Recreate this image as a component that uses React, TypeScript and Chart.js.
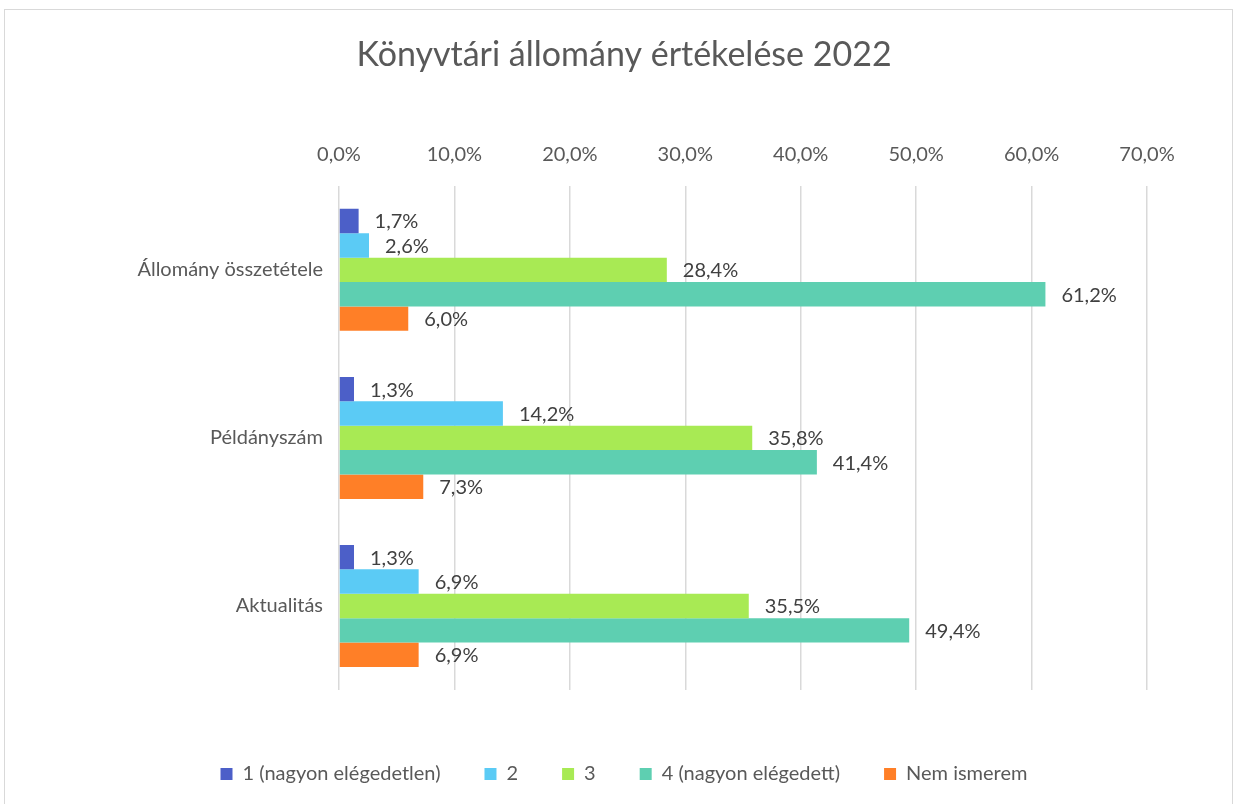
import React, { useEffect, useRef } from "react";
import { Chart, registerables } from "chart.js";

Chart.register(...registerables);

const categories = ["Állomány összetétele", "Példányszám", "Aktualitás"];
const seriesNames = ["1 (nagyon elégedetlen)", "2", "3", "4 (nagyon elégedett)", "Nem ismerem"];
const series1 = [1.7, 1.3, 1.3];
const series2 = [2.6, 14.2, 6.9];
const series3 = [28.4, 35.8, 35.5];
const series4 = [61.2, 41.4, 49.4];
const seriesNem = [6.0, 7.3, 6.9];
const seriesColors = ["#4C5FC8", "#5BCBF5", "#A8EA54", "#5ECFB1", "#FF7F27"];
const chartTitle = "Könyvtári állomány értékelése 2022";
const axisMax = 70;
const axisStep = 10;

const FONT = "Lato, 'Noto Sans', sans-serif";
const fmt = (v: number) => v.toFixed(1).replace(".", ",") + "%";

const labelPlugin = {
  id: "barValueLabels",
  afterDatasetsDraw(chart: any) {
    const ctx = chart.ctx;
    ctx.save();
    ctx.font = `20px ${FONT}`;
    ctx.fillStyle = "#404040";
    ctx.textAlign = "left";
    ctx.textBaseline = "middle";
    chart.data.datasets.forEach((ds: any, di: number) => {
      const meta = chart.getDatasetMeta(di);
      meta.data.forEach((el: any, i: number) => {
        ctx.fillText(fmt(ds.data[i]), el.x + 16, el.y + 1);
      });
    });
    ctx.restore();
  },
};

export default function App() {
  const ref = useRef<HTMLCanvasElement>(null);
  useEffect(() => {
    const all = [series1, series2, series3, series4, seriesNem];
    const chart = new Chart(ref.current!, {
      type: "bar",
      data: {
        labels: categories,
        datasets: all.map((d, i) => ({
          label: seriesNames[i],
          data: d,
          backgroundColor: seriesColors[i],
          borderWidth: 0,
          categoryPercentage: 0.726,
          barPercentage: 1,
        })),
      },
      options: {
        indexAxis: "y",
        animation: false,
        responsive: false,
        maintainAspectRatio: false,
        layout: { padding: { left: 12, right: 0, top: 0, bottom: 10 } },
        scales: {
          x: {
            position: "top",
            min: 0,
            max: axisMax,
            ticks: {
              stepSize: axisStep,
              padding: 19,
              color: "#595959",
              font: { family: FONT, size: 20 },
              callback: (v: any) => fmt(Number(v)),
            },
            grid: { color: "#d9d9d9", lineWidth: 1.5, drawTicks: false },
            border: { display: false },
            afterFit: (s: any) => {
              s.height = 110;
            },
          },
          x2: {
            axis: "x",
            position: "bottom",
            display: true,
            ticks: { display: false },
            grid: { display: false, drawTicks: false },
            border: { display: false },
            afterFit: (s: any) => {
              s.height = 30;
            },
          },
          y: {
            ticks: {
              padding: 16,
              color: "#595959",
              font: { family: FONT, size: 20 },
            },
            grid: { display: false, drawTicks: false },
            border: { display: false },
            afterFit: (s: any) => {
              s.width = 327;
            },
          },
          y2: {
            axis: "y",
            type: "linear",
            position: "right",
            display: true,
            ticks: { display: false },
            grid: { display: false, drawTicks: false },
            border: { display: false },
            afterFit: (s: any) => {
              s.width = 89;
            },
          },
        } as any,
        plugins: {
          title: {
            display: true,
            text: chartTitle,
            color: "#595959",
            font: { family: FONT, size: 34, weight: "normal" },
            padding: { top: 35, bottom: 0 },
          },
          legend: {
            position: "bottom",
            labels: {
              boxWidth: 12,
              boxHeight: 12,
              padding: 44,
              color: "#595959",
              font: { family: FONT, size: 20 },
            },
          },
          tooltip: { enabled: false },
        },
      } as any,
      plugins: [labelPlugin],
    });
    return () => chart.destroy();
  }, []);
  return (
    <div style={{ position: "fixed", left: 0, top: 0, width: 1236, height: 804, background: "#fff" }}>
      <div
        style={{
          position: "absolute",
          left: 4,
          top: 9,
          width: 1229,
          height: 800,
          border: "1px solid #d9d9d9",
          boxSizing: "border-box",
        }}
      />
      <canvas ref={ref} width={1236} height={804} style={{ position: "absolute", left: 0, top: 0 }} />
    </div>
  );
}
